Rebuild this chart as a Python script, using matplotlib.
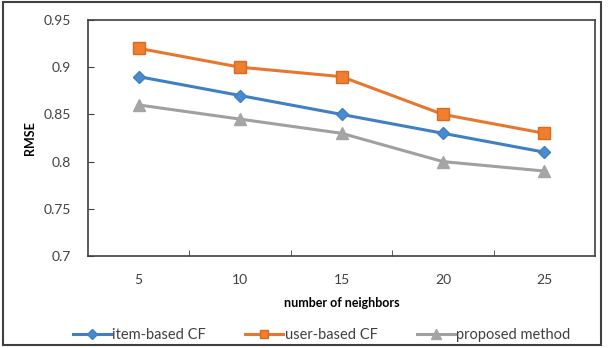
import matplotlib.pyplot as plt
from matplotlib.patches import Rectangle

plt.rcParams['font.family'] = ['Lato', 'DejaVu Sans']

# data
neighbors = ['5', '10', '15', '20', '25']
item_cf = [0.89, 0.87, 0.85, 0.83, 0.81]
user_cf = [0.92, 0.90, 0.89, 0.85, 0.83]
proposed = [0.86, 0.845, 0.83, 0.80, 0.79]
y_ticks = [0.7, 0.75, 0.8, 0.85, 0.9, 0.95]
y_labels = ['0.7', '0.75', '0.8', '0.85', '0.9', '0.95']

fig = plt.figure(figsize=(6.13, 3.48), dpi=100)
ax = fig.add_axes([88 / 613, 1 - 256 / 348, 507 / 613, 236 / 348])

x = list(range(len(neighbors)))
ax.plot(x, item_cf, color='#3F7FC3', lw=2.2, marker='D', ms=6.5,
        mfc='#4A8ACF', mec='#3F7FC3', label='item-based CF')
ax.plot(x, user_cf, color='#E8762C', lw=2.2, marker='s', ms=8,
        mfc='#EF7F2E', mec='#D86A22', label='user-based CF')
ax.plot(x, proposed, color='#A0A0A0', lw=2.2, marker='^', ms=9,
        mfc='#A5A5A5', mec='#A5A5A5', label='proposed method')

ax.set_xlim(-0.5, len(neighbors) - 0.5)
ax.set_ylim(0.7, 0.95)
ax.set_xticks(x)
ax.set_xticklabels(neighbors)
ax.set_xticks([i + 0.5 for i in x[:-1]], minor=True)
ax.tick_params(axis='x', which='major', length=0, pad=13, labelsize=10, colors='#404040')
ax.tick_params(axis='x', which='minor', length=4, direction='in', color='#404040')
ax.set_yticks(y_ticks)
ax.set_yticklabels(y_labels)
ax.tick_params(axis='y', length=4, direction='in', pad=12, labelsize=10,
               colors='#404040')

for s in ax.spines.values():
    s.set_color('#404040')
    s.set_linewidth(1.2)

ax.set_ylabel('RMSE', fontsize=9, fontweight='bold', labelpad=6)
ax.set_xlabel('number of neighbors', fontsize=9, fontweight='bold', labelpad=8)

fig.legend(loc='center', bbox_to_anchor=(0.525, 1 - 335 / 348), ncol=3,
           frameon=False, fontsize=10.5, handlelength=2.6, columnspacing=2.7,
           handletextpad=0.1, labelcolor='#404040', markerscale=0.8)

# outer chart border
fig.patches.append(Rectangle((3 / 613, 3 / 348), 598 / 613, 343 / 348,
                             transform=fig.transFigure, fill=False,
                             ec='#404040', lw=1.5))

fig.savefig('out.png', dpi=100)
